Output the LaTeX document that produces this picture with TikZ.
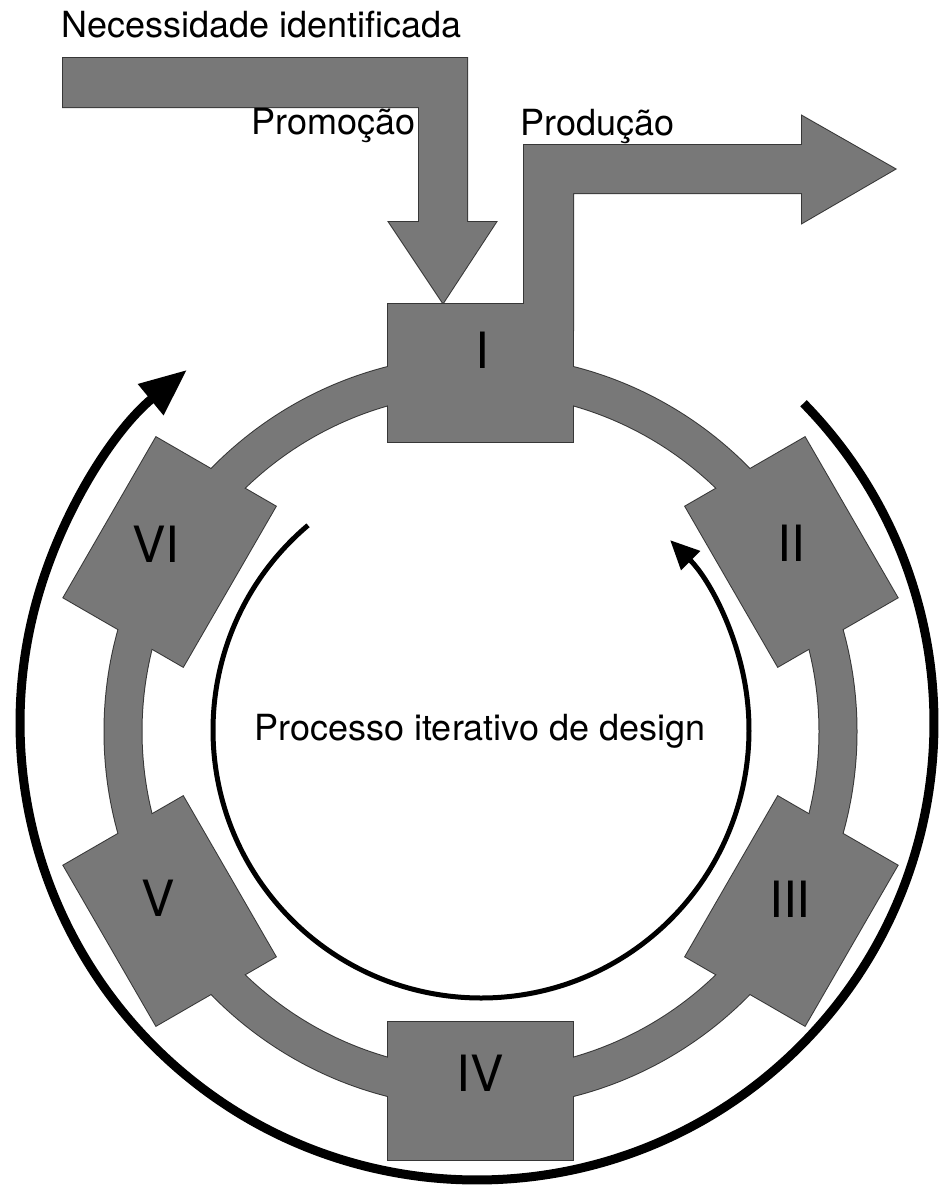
\documentclass[tikz,border=0pt]{standalone}
\usepackage{fontspec}
\setmainfont{TeX Gyre Heros}
\usetikzlibrary{arrows.meta,calc}
\definecolor{boxgray}{RGB}{120,120,120}
\definecolor{edgegray}{RGB}{55,55,55}
\newcommand\promoshape{(63,-58) -- (467,-58) -- (467,-222) -- (496,-222) -- (443,-303) -- (389,-222) -- (419,-222) -- (419,-107) -- (63,-107) -- cycle}
\newcommand\prodshape{(524,-330) -- (524,-145) -- (802,-145) -- (802,-116) -- (895,-169) -- (802,-223) -- (802,-193) -- (573,-193) -- (573,-330) -- cycle}
\begin{document}
\begin{tikzpicture}[x=1pt,y=1pt,
  outl/.style={draw=edgegray, line width=2pt, line join=miter},
  stagebox/.style={rectangle, minimum width=185pt, minimum height=138pt, inner sep=0pt, outer sep=0pt},
  numlbl/.style={font=\fontsize{50}{60}\selectfont, inner sep=0pt, text=black},
  txt/.style={font=\fontsize{36}{43}\selectfont, inner sep=0pt, text=black},
  cyclearrow/.style={draw=black, line cap=butt}
]
\useasboundingbox (0,0) rectangle (938,-1191);
\coordinate (C) at (480.5,-731.5);
% layer 1: outlines of the grey shapes
\path[outl] \promoshape;
\path[outl] \prodshape;
\path[outl] (C) circle[radius=376] (C) circle[radius=339];
\foreach \a/\n in {90/1,30/2,-30/3,-90/4,-150/5,150/6}
  \node[stagebox, outl, rotate=\a-90] (o\n) at ($(C)+(\a:359)$) {};
% layer 2: fills (merge the shapes)
\fill[boxgray] \promoshape;
\fill[boxgray] \prodshape;
\fill[boxgray, even odd rule] (C) circle[radius=376] (C) circle[radius=339];
\foreach \a/\n in {90/1,30/2,-30/3,-90/4,-150/5,150/6}
  \node[stagebox, fill=boxgray, rotate=\a-90] (b\n) at ($(C)+(\a:359)$) {};
% stage labels
\node[numlbl] (l1) at (482,-350) {I};
\node[numlbl] (l2) at (791,-543) {II};
\node[numlbl] (l3) at (790,-899) {III};
\node[numlbl] (l4) at (480,-1073) {IV};
\node[numlbl] (l5) at (158,-898) {V};
\node[numlbl] (l6) at (156,-544) {VI};
% texts
\node[txt, anchor=base west] (need) at (61,-37) {Necessidade identificada};
\node[txt, anchor=base east] (promo) at (416,-134) {Promoção};
\node[txt, anchor=base west] (prod) at (520,-135) {Produção};
\node[txt, anchor=base] (proc) at (480,-740) {Processo iterativo de design};
% cycle arrows
\coordinate (outS) at ($(477,-723)+(44.4:457)$);
\draw[cyclearrow, line width=9pt, -{Triangle[length=47pt,width=38pt]}] (outS) arc[start angle=44.4, end angle=-230.6, radius=457];
\coordinate (inS) at ($(481,-730)+(130.2:268)$);
\draw[cyclearrow, line width=5pt, -{Triangle[length=29pt,width=26pt]}] (inS) arc[start angle=130.2, end angle=405.1, radius=268];
\end{tikzpicture}
\end{document}
